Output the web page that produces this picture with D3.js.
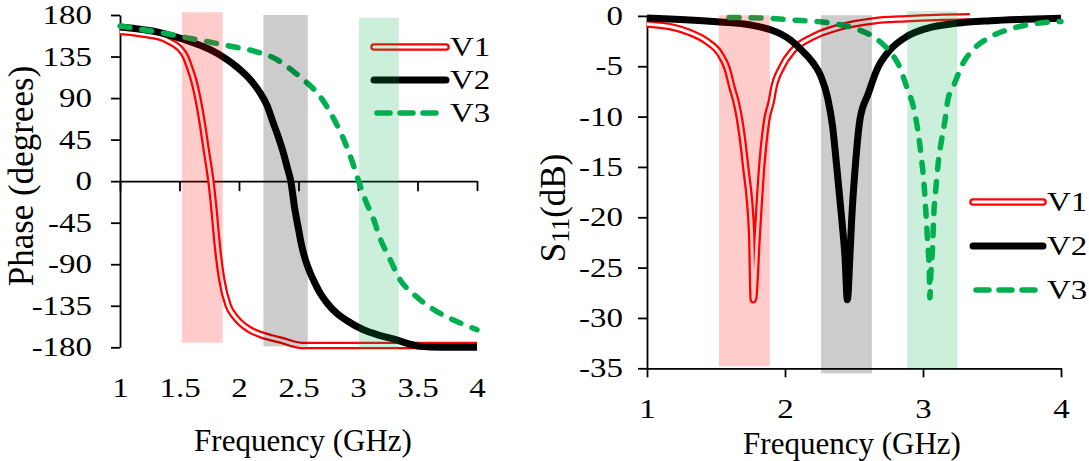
<!DOCTYPE html>
<html><head><meta charset="utf-8">
<script src="https://cdn.jsdelivr.net/npm/d3@7"></script>
<style>
body{margin:0;background:#fff}
svg text{font-family:"Liberation Serif","Times New Roman",serif;fill:#000}
</style>
</head><body>
<svg id="c" width="1089" height="461"></svg>
<script>
// ---------- data ----------
const seriesNames = ["V1", "V2", "V3"];
const freqTicksPhase = [1, 1.5, 2, 2.5, 3, 3.5, 4];
const phaseTicks = [180, 135, 90, 45, 0, -45, -90, -135, -180];
const freqTicksS11 = [1, 2, 3, 4];
const s11Ticks = [0, -5, -10, -15, -20, -25, -30, -35];

// Phase (degrees) vs frequency (GHz)
const phaseV1 = [[1.0,162],[1.1,161],[1.2,159],[1.336,156],[1.42,151],[1.5,144],[1.55,135],[1.588,122],[1.62,109],[1.644,96],[1.686,67],[1.728,31],[1.764,0],[1.79,-31],[1.818,-70],[1.854,-106],[1.91,-135],[1.96,-146],[2.008,-153],[2.09,-161],[2.176,-166],[2.28,-170],[2.372,-173],[2.46,-176.5],[2.53,-178],[3.0,-178],[3.5,-178],[4.0,-178]];
const phaseV2 = [[1.0,167],[1.336,161],[1.616,150],[1.75,143],[1.897,132],[1.98,124],[2.065,114],[2.12,106],[2.176,96],[2.235,82],[2.288,63],[2.33,48],[2.372,31],[2.405,15],[2.435,0],[2.47,-31],[2.5,-52],[2.527,-70],[2.56,-86],[2.597,-99],[2.64,-111],[2.68,-121],[2.74,-132],[2.82,-143],[2.905,-151],[3.045,-161],[3.18,-167],[3.325,-172],[3.42,-176],[3.52,-179],[3.7,-180],[4.0,-180]];
const phaseV3 = [[1.0,168],[1.336,161],[1.616,154],[1.897,147],[2.176,139],[2.3,133],[2.456,119],[2.55,109],[2.68,92],[2.76,76],[2.89,42],[2.96,18],[3.0,2],[3.07,-23],[3.13,-41],[3.18,-60],[3.27,-85],[3.35,-106],[3.49,-125],[3.66,-141],[3.83,-152],[4.0,-161]];

// S11 (dB) vs frequency (GHz)
const s11V1 = [[1.0,-0.8],[1.19,-1.13],[1.3,-1.6],[1.43,-2.5],[1.53,-3.8],[1.58,-5.2],[1.62,-7.3],[1.643,-8.4],[1.67,-10.2],[1.715,-15],[1.758,-21.6],[1.77,-28.2],[1.8,-21.6],[1.831,-15],[1.867,-10.4],[1.903,-8.35],[1.915,-7.4],[1.976,-5.1],[2.06,-3.4],[2.2,-2.1],[2.4,-1.1],[2.64,-0.5],[2.88,-0.28],[3.1,-0.15],[3.34,-0.08]];
const s11V2 = [[1.0,-0.2],[1.53,-0.6],[1.75,-0.9],[1.89,-1.35],[1.97,-1.8],[2.04,-2.4],[2.12,-3.4],[2.2,-4.6],[2.26,-6.0],[2.31,-8.2],[2.345,-11],[2.375,-15],[2.41,-20],[2.435,-24],[2.452,-28.2],[2.47,-24],[2.484,-20],[2.509,-15],[2.543,-10.3],[2.604,-7.7],[2.664,-5.4],[2.76,-3.4],[2.88,-2.07],[3.03,-1.23],[3.24,-0.74],[3.49,-0.48],[3.75,-0.33],[4.0,-0.24]];
const s11V3 = [[1.595,-0.16],[1.81,-0.2],[2.08,-0.43],[2.35,-0.76],[2.54,-1.4],[2.64,-2.07],[2.75,-3.4],[2.83,-5.05],[2.89,-7.4],[2.93,-9.0],[2.966,-11.7],[2.99,-14.3],[3.007,-16.6],[3.02,-19.3],[3.034,-22.6],[3.046,-25.5],[3.05,-28],[3.056,-25.9],[3.067,-23.6],[3.08,-19.3],[3.094,-17],[3.11,-14.6],[3.135,-12.3],[3.16,-10.3],[3.18,-8.35],[3.22,-7.0],[3.29,-4.7],[3.36,-3.4],[3.49,-2.07],[3.61,-1.4],[3.8,-0.8],[4.0,-0.55]];

// shaded bands [fStart, fEnd, yLow, yHigh]
const bandsPhase = [[1.52,1.863,-175,183],[2.205,2.578,-179,180],[3.008,3.343,-182,177]];
const bandsS11 = [[1.521,1.89,-34.8,0.07],[2.261,2.63,-35.5,0.07],[2.886,3.248,-35.0,0.48]];

// ---------- styles ----------
const colors = {V1:"#FF0000", V2:"#000000", V3:"#00B050"};
const SERIF = "'Liberation Serif','Times New Roman',serif";
const FONT_TICK = 27, FONT_TITLE = 31, FONT_YTITLE = 35, FONT_LEG = 27;
const WIDE = 1.22; // horizontal widening of digits/labels seen in the reference

const svg = d3.select("#c");

function widen(sel) {
  sel.each(function() {
    const w = this.getComputedTextLength();
    d3.select(this).attr("textLength", w * WIDE).attr("lengthAdjust", "spacingAndGlyphs");
  });
}

function drawSeries(g, data, name, x, y) {
  const line = d3.line().x(d => x(d[0])).y(d => y(d[1])).curve(d3.curveMonotoneX);
  if (name === "V1") {
    g.append("path").attr("d", line(data)).attr("fill","none").attr("stroke",colors.V1).attr("stroke-width",7.5).attr("stroke-linejoin","round");
    g.append("path").attr("d", line(data)).attr("fill","none").attr("stroke","#fff").attr("stroke-width",3).attr("stroke-linejoin","round");
  } else if (name === "V2") {
    g.append("path").attr("d", line(data)).attr("fill","none").attr("stroke",colors.V2).attr("stroke-width",7).attr("stroke-linejoin","round");
  } else {
    g.append("path").attr("d", line(data)).attr("fill","none").attr("stroke",colors.V3).attr("stroke-width",5.5)
      .attr("stroke-dasharray","10,12").attr("stroke-linecap","round").attr("stroke-linejoin","round");
  }
}

function drawLegend(g, x0, x1, ys) {
  seriesNames.forEach((n, i) => {
    const yy = ys[i];
    const data = [[x0, yy],[x1, yy]];
    const ln = d3.line();
    if (n === "V1") {
      g.append("path").attr("d", ln(data)).attr("stroke",colors.V1).attr("stroke-width",7.5).attr("fill","none").attr("stroke-linecap","round");
      g.append("path").attr("d", ln(data)).attr("stroke","#fff").attr("stroke-width",3).attr("fill","none").attr("stroke-linecap","round");
    } else if (n === "V2") {
      g.append("path").attr("d", ln(data)).attr("stroke",colors.V2).attr("stroke-width",7).attr("fill","none").attr("stroke-linecap","round");
    } else {
      g.append("path").attr("d", ln([[x0+3,yy],[x1-3,yy]])).attr("stroke",colors.V3).attr("stroke-width",5.5).attr("fill","none")
        .attr("stroke-dasharray","13,10").attr("stroke-linecap","round");
    }
    const t = g.append("text").attr("x", x1 + 4).attr("y", yy).attr("dy","0.35em")
      .style("font-family", SERIF).style("font-size", FONT_LEG + "px").text(n);
    widen(t);
  });
}

function styleAxis(g) {
  g.attr("font-family", null).attr("font-size", null);
  g.selectAll("path.domain").attr("stroke","#000").attr("stroke-width",1.8);
  g.selectAll(".tick line").attr("stroke","#000").attr("stroke-width",1.8);
  const t = g.selectAll(".tick text").style("font-size",FONT_TICK + "px").style("font-family",SERIF).attr("fill","#000");
  widen(t);
}
const fmt = d => String(d);

// ---------- left: phase ----------
{
  const x = d3.scaleLinear().domain([1,4]).range([120,477]);
  const y = d3.scaleLinear().domain([-180,180]).range([347.3,15]);
  const g = svg.append("g");

  const yAx = g.append("g").attr("transform",`translate(${x(1)},0)`)
    .call(d3.axisLeft(y).tickValues(phaseTicks).tickSize(9).tickSizeOuter(0).tickPadding(19).tickFormat(fmt));
  styleAxis(yAx);
  const xAx = g.append("g").attr("transform",`translate(0,${y(0)})`)
    .call(d3.axisBottom(x).tickValues(freqTicksPhase).tickSize(10).tickSizeOuter(0).tickFormat(""));
  styleAxis(xAx);
  const xLab = g.append("g").attr("transform",`translate(0,${y(-180)})`)
    .call(d3.axisBottom(x).tickValues(freqTicksPhase).tickSize(0).tickPadding(31).tickFormat(fmt));
  styleAxis(xLab);
  xLab.select("path.domain").remove();

  const lines = g.append("g");
  drawSeries(lines, phaseV1, "V1", x, y);
  drawSeries(lines, phaseV2, "V2", x, y);
  drawSeries(lines, phaseV3, "V3", x, y);

  drawLegend(g, 374, 446, [47, 80, 113]);

  bandsPhase.forEach((b, i) => {
    g.append("rect").attr("x", x(b[0])).attr("width", x(b[1]) - x(b[0]))
      .attr("y", y(b[3])).attr("height", y(b[2]) - y(b[3]))
      .attr("fill", colors[seriesNames[i]]).attr("fill-opacity", 0.2);
  });

  g.append("text").attr("x", 303).attr("y", 451).attr("text-anchor","middle")
    .style("font-family",SERIF).style("font-size",FONT_TITLE+"px").text("Frequency (GHz)");
  g.append("text").attr("transform","translate(33,176) rotate(-90)").attr("text-anchor","middle")
    .style("font-family",SERIF).style("font-size",FONT_YTITLE+"px").text("Phase (degrees)");
}

// ---------- right: S11 ----------
{
  const x = d3.scaleLinear().domain([1,4]).range([647,1061]);
  const y = d3.scaleLinear().domain([-35,0]).range([368.3,15.9]);
  const g = svg.append("g");

  const yAx = g.append("g").attr("transform",`translate(${x(1)},0)`)
    .call(d3.axisLeft(y).tickValues(s11Ticks).tickSize(9).tickSizeOuter(0).tickPadding(15).tickFormat(fmt));
  styleAxis(yAx);
  const xAx = g.append("g").attr("transform",`translate(0,${y(-35)})`)
    .call(d3.axisBottom(x).tickValues(freqTicksS11).tickSize(9).tickSizeOuter(0).tickPadding(22).tickFormat(fmt));
  styleAxis(xAx);

  const lines = g.append("g");
  drawSeries(lines, s11V1, "V1", x, y);
  drawSeries(lines, s11V2, "V2", x, y);
  drawSeries(lines, s11V3, "V3", x, y);

  bandsS11.forEach((b, i) => {
    g.append("rect").attr("x", x(b[0])).attr("width", x(b[1]) - x(b[0]))
      .attr("y", y(b[3])).attr("height", y(b[2]) - y(b[3]))
      .attr("fill", colors[seriesNames[i]]).attr("fill-opacity", 0.2);
  });

  drawLegend(g, 973, 1043, [202, 246, 290]);

  g.append("text").attr("x", 852).attr("y", 454).attr("text-anchor","middle")
    .style("font-family",SERIF).style("font-size",FONT_TITLE+"px").text("Frequency (GHz)");
  const t = g.append("text").attr("transform","translate(565,208) rotate(-90)").attr("text-anchor","middle")
    .style("font-family",SERIF).style("font-size",FONT_YTITLE+"px");
  t.append("tspan").text("S");
  t.append("tspan").style("font-size","26px").attr("dy",4).text("11");
  t.append("tspan").attr("dy",-4).text("(dB)");
}
</script>
</body></html>
